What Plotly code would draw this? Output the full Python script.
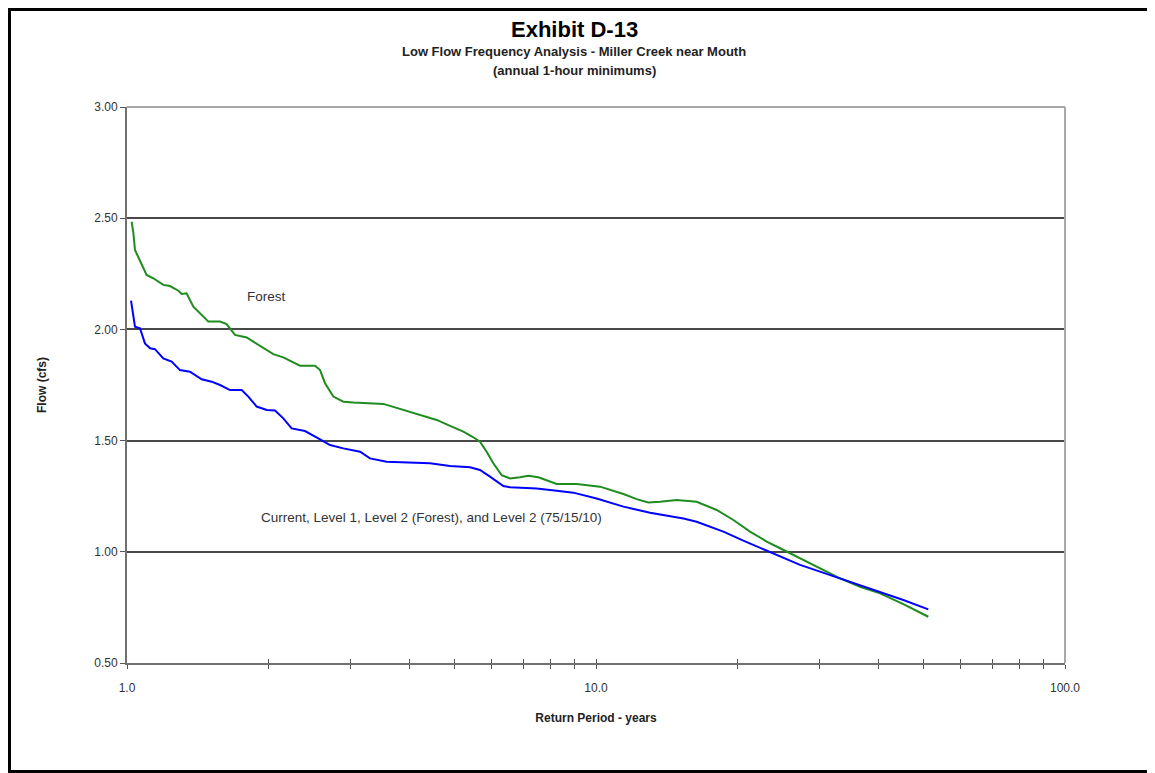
import plotly.graph_objects as go

# ---- data ----
forest_x = [1.023, 1.032, 1.040, 1.066, 1.101, 1.138, 1.195, 1.235, 1.287, 1.308, 1.340,
            1.385, 1.431, 1.491, 1.579, 1.631, 1.699, 1.800, 1.859, 1.953, 2.051, 2.154,
            2.338, 2.517, 2.580, 2.644, 2.754, 2.893, 3.039, 3.521, 3.884, 4.575, 4.884,
            5.214, 5.476, 5.657, 5.846, 6.040, 6.293, 6.556, 6.886, 7.173, 7.535, 7.847,
            8.245, 9.095, 9.710, 10.20, 11.44, 12.21, 12.93, 13.69, 14.86, 16.39, 18.08,
            19.63, 21.30, 23.12, 24.69, 27.23, 30.03, 33.14, 36.55, 40.33, 45.22, 51.12]
forest_y = [2.484, 2.432, 2.357, 2.305, 2.245, 2.230, 2.200, 2.195, 2.174, 2.159, 2.162,
            2.102, 2.072, 2.035, 2.035, 2.024, 1.975, 1.964, 1.945, 1.915, 1.889, 1.874,
            1.837, 1.837, 1.817, 1.758, 1.698, 1.675, 1.671, 1.665, 1.638, 1.593, 1.566,
            1.540, 1.515, 1.495, 1.450, 1.398, 1.345, 1.330, 1.335, 1.342, 1.335, 1.320,
            1.305, 1.305, 1.300, 1.293, 1.260, 1.237, 1.222, 1.225, 1.233, 1.225, 1.188,
            1.143, 1.091, 1.046, 1.016, 0.971, 0.926, 0.881, 0.843, 0.813, 0.765, 0.708]

current_x = [1.020, 1.028, 1.040, 1.066, 1.092, 1.120, 1.147, 1.195, 1.245, 1.297, 1.362,
             1.443, 1.515, 1.579, 1.658, 1.756, 1.814, 1.890, 1.986, 2.068, 2.154, 2.244,
             2.396, 2.580, 2.709, 2.893, 3.140, 3.297, 3.578, 4.426, 4.884, 5.387, 5.657,
             5.943, 6.345, 6.556, 7.474, 8.245, 8.947, 10.03, 11.44, 13.04, 15.36, 16.39,
             18.69, 20.61, 22.74, 27.23, 30.03, 33.14, 36.55, 40.33, 45.22, 51.12]
current_y = [2.129, 2.072, 2.012, 2.005, 1.937, 1.915, 1.911, 1.870, 1.855, 1.817, 1.810,
             1.776, 1.765, 1.750, 1.727, 1.727, 1.698, 1.653, 1.638, 1.635, 1.600, 1.555,
             1.543, 1.506, 1.480, 1.465, 1.450, 1.420, 1.405, 1.398, 1.386, 1.380, 1.368,
             1.338, 1.296, 1.290, 1.285, 1.275, 1.266, 1.240, 1.203, 1.176, 1.150, 1.135,
             1.091, 1.050, 1.011, 0.941, 0.911, 0.881, 0.851, 0.821, 0.783, 0.741]

x_tick_vals = [1, 2, 3, 4, 5, 6, 7, 8, 9, 10, 20, 30, 40, 50, 60, 70, 80, 90, 100]
x_tick_text = ["1.0", "", "", "", "", "", "", "", "", "10.0", "", "", "", "", "", "", "", "", "100.0"]
y_tick_vals = [0.5, 1.0, 1.5, 2.0, 2.5, 3.0]
y_tick_text = ["0.50", "1.00", "1.50", "2.00", "2.50", "3.00"]

FONT = "Arial, Liberation Sans, sans-serif"

fig = go.Figure()
fig.add_trace(go.Scatter(x=forest_x, y=forest_y, mode="lines", name="Forest",
                         line=dict(color="#1e8c1e", width=2), showlegend=False))
fig.add_trace(go.Scatter(x=current_x, y=current_y, mode="lines", name="Current",
                         line=dict(color="#0000ff", width=2), showlegend=False))
# dummy trace to activate overlay axis used for crossing tick marks
fig.add_trace(go.Scatter(x=[], y=[], xaxis="x2", showlegend=False, hoverinfo="skip"))

# page has an 8px body margin: screen pixel = figure pixel + 8
OFF = 8
W, H = 1146, 765
L, R, T, B = 119, 89, 99, 110
pw, ph = W - L - R, H - T - B

def px(screen_x):
    return (screen_x - OFF - L) / pw

def py(screen_y):
    return (H - B - (screen_y - OFF)) / ph

fig.update_layout(
    width=W, height=H,
    margin=dict(l=L, r=R, t=T, b=B),
    paper_bgcolor="white", plot_bgcolor="white",
    font=dict(family=FONT, size=12, color="#333333"),
    xaxis=dict(type="log", range=[0, 2], tickvals=x_tick_vals, ticktext=x_tick_text,
               ticks="outside", ticklen=4, tickwidth=1, tickcolor="#555555",
               showline=True, linecolor="#707070", linewidth=2, showgrid=False,
               zeroline=False, tickfont=dict(size=12, color="#333333"),
               ticklabelstandoff=9,
               title=dict(text="<b>Return Period - years</b>", font=dict(size=12, color="#222222"),
                          standoff=19)),
    xaxis2=dict(type="log", range=[0, 2], overlaying="x", anchor="y", side="bottom",
                tickvals=x_tick_vals, showticklabels=False, ticks="inside", ticklen=4,
                tickwidth=1, tickcolor="#555555", showline=False, showgrid=False,
                zeroline=False),
    yaxis=dict(range=[0.5, 3.0], tickvals=y_tick_vals, ticktext=y_tick_text,
               ticks="outside", ticklen=5, tickwidth=1, tickcolor="#555555",
               showline=True, linecolor="#707070", linewidth=2,
               showgrid=True, gridcolor="#484848", gridwidth=1.5, zeroline=False,
               tickfont=dict(size=12, color="#333333"),
               title=dict(text="<b>Flow (cfs)</b>", font=dict(size=12, color="#222222"),
                          standoff=45)),
    shapes=[
        # plot area top and right border (lighter gray)
        dict(type="line", xref="paper", yref="paper", x0=0, x1=1, y0=1, y1=1,
             line=dict(color="#a8a8a8", width=2)),
        dict(type="line", xref="paper", yref="paper", x0=1, x1=1, y0=0, y1=1,
             line=dict(color="#a8a8a8", width=2)),
        # outer frame along the figure edges
        dict(type="rect", xref="paper", yref="paper",
             x0=(1.5 - L) / pw, x1=(W - 1.5 - L) / pw,
             y0=(H - B - (H - 1.5)) / ph, y1=(H - B - 1.5) / ph,
             line=dict(color="black", width=3), fillcolor="rgba(0,0,0,0)"),
    ],
    annotations=[
        dict(text="<b>Exhibit D-13</b>", xref="paper", yref="paper", x=px(574), y=py(30),
             showarrow=False, font=dict(size=22, color="black"), xanchor="center", yanchor="middle"),
        dict(text="<b>Low Flow Frequency Analysis - Miller Creek near Mouth</b>", xref="paper",
             yref="paper", x=px(574), y=py(52), showarrow=False,
             font=dict(size=13, color="#222222"), xanchor="center", yanchor="middle"),
        dict(text="<b>(annual 1-hour minimums)</b>", xref="paper", yref="paper", x=px(574),
             y=py(71), showarrow=False, font=dict(size=13, color="#222222"),
             xanchor="center", yanchor="middle"),
        dict(text="Forest", x=0.297, y=2.146, xref="x", yref="y", showarrow=False,
             font=dict(size=13.5, color="#333333")),
        dict(text="Current, Level 1, Level 2 (Forest), and Level 2 (75/15/10)",
             x=0.650, y=1.156, xref="x", yref="y", showarrow=False,
             font=dict(size=13.5, color="#333333")),
    ],
)

fig.write_html("out.html", config={"displayModeBar": False})
